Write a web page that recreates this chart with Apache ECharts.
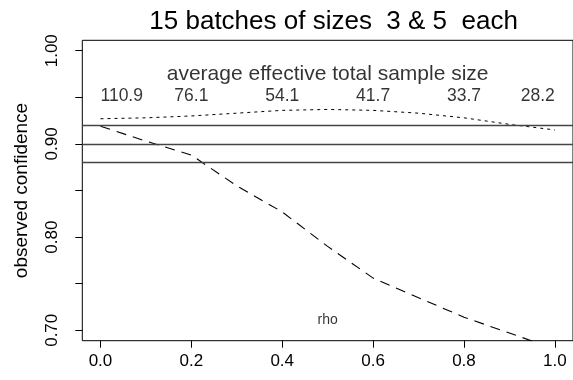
<!DOCTYPE html>
<html><head><meta charset="utf-8">
<script src="https://cdn.jsdelivr.net/npm/echarts@6/dist/echarts.min.js"></script>
<style>html,body{margin:0;padding:0;background:#fff}#c{width:573px;height:380px}</style>
</head><body><div id="c"></div>
<script>
const rho = [0, 0.1, 0.2, 0.3, 0.4, 0.5, 0.6, 0.7, 0.8, 0.9, 1.0];
const upperConf = [0.927, 0.928, 0.930, 0.933, 0.936, 0.937, 0.936, 0.933, 0.928, 0.921, 0.915];
const lowerConf = [0.919, 0.903, 0.888, 0.855, 0.827, 0.790, 0.756, 0.735, 0.714, 0.697, 0.680];
const refLines = [0.9187, 0.90, 0.8813];
const sizeRho = [0, 0.2, 0.4, 0.6, 0.8, 1.0];
const sizeLabels = ['110.9', '76.1', '54.1', '41.7', '33.7', '28.2'];
const xTicks = [0, 0.2, 0.4, 0.6, 0.8, 1.0];
const yTicks = [0.70, 0.75, 0.80, 0.85, 0.90, 0.95, 1.00];
const yLabels = [0.70, 0.80, 0.90, 1.00];
const titleText = '15 batches of sizes  3 & 5  each';
const headerText = 'average effective total sample size';
const yName = 'observed confidence';
const xName = 'rho';

const FONT = '"Liberation Sans", Arial, Helvetica, sans-serif';
const chart = echarts.init(document.getElementById('c'), null, {renderer: 'canvas'});

const sizeData = sizeRho.map((x, i) => ({
  value: [x, 0.9516],
  label: {align: i === 0 ? 'left' : (i === sizeRho.length - 1 ? 'right' : 'center')}
}));

chart.setOption({
  animation: false,
  backgroundColor: '#fff',
  textStyle: {fontFamily: FONT, color: '#000'},
  title: {
    text: titleText, left: 328.6, top: 4, textAlign: 'center',
    textStyle: {fontFamily: FONT, fontSize: 26, fontWeight: 'normal', color: '#000'}
  },
  grid: {left: 82.3, top: 40.3, width: 492.6, height: 300.4, show: true,
         borderColor: '#000', borderWidth: 1, backgroundColor: 'transparent', containLabel: false},
  xAxis: {
    type: 'value', min: -0.04, max: 1.04,
    axisLine: {show: false, onZero: false},
    splitLine: {show: false},
    axisTick: {show: true, inside: false, length: 7, lineStyle: {color: '#000', width: 1}, customValues: xTicks},
    axisLabel: {customValues: xTicks, formatter: v => v.toFixed(1), fontSize: 17, color: '#000', margin: 12, fontFamily: FONT}
  },
  yAxis: {
    type: 'value', min: 0.6888, max: 1.0112,
    name: yName, nameLocation: 'middle', nameRotate: 90, nameGap: 51,
    nameTextStyle: {fontSize: 19, color: '#000', fontFamily: FONT},
    axisLine: {show: false, onZero: false},
    splitLine: {show: false},
    axisTick: {show: true, inside: false, length: 7, lineStyle: {color: '#000', width: 1}, customValues: yTicks},
    axisLabel: {customValues: yLabels, rotate: 90, formatter: v => v.toFixed(2), fontSize: 17, color: '#000', margin: 21, fontFamily: FONT}
  },
  series: [
    {
      type: 'line', data: rho.map((x, i) => [x, upperConf[i]]), showSymbol: false, smooth: false,
      lineStyle: {color: '#000', width: 1, type: [3, 4]}, clip: true,
      markLine: {
        silent: true, symbol: 'none', label: {show: false},
        lineStyle: {color: '#444', width: 1.3, type: 'solid'},
        data: refLines.map(v => ({yAxis: v}))
      }
    },
    {
      type: 'line', data: rho.map((x, i) => [x, lowerConf[i]]), showSymbol: false, smooth: false,
      lineStyle: {color: '#000', width: 1.1, type: [10, 7]}, clip: true
    },
    {
      type: 'scatter', symbolSize: 0, data: sizeData, silent: true,
      label: {show: true, position: 'inside', formatter: p => sizeLabels[p.dataIndex], fontSize: 17.5, color: '#000', fontFamily: FONT, verticalAlign: 'middle'}
    },
    {
      type: 'scatter', symbolSize: 0, data: [[0.5, 0.975]], silent: true,
      label: {show: true, position: 'inside', formatter: headerText, fontSize: 21, color: '#000', fontFamily: FONT, align: 'center', verticalAlign: 'middle'}
    },
    {
      type: 'scatter', symbolSize: 0, data: [[0.5, 0.7105]], silent: true,
      label: {show: true, position: 'inside', formatter: xName, fontSize: 14, color: '#000', fontFamily: FONT, align: 'center', verticalAlign: 'middle'}
    }
  ]
});
</script></body></html>
